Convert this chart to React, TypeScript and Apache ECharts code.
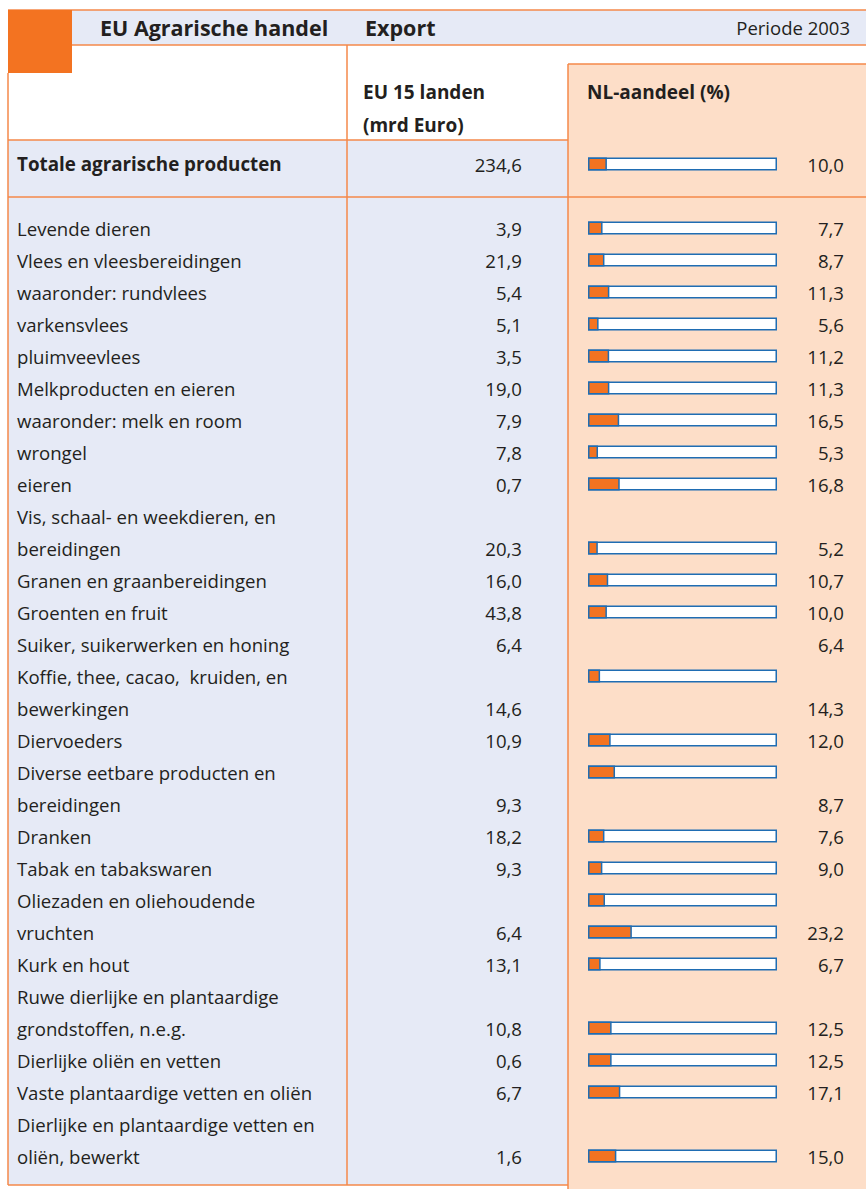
import React, { useEffect, useRef } from "react";
import * as echarts from "echarts";

// ---- data (one entry per printed line; Totale first, then a spacer line) ----
const rowNames: string[] = [
  "Totale agrarische producten",
  "",
  "Levende dieren",
  "Vlees en vleesbereidingen",
  "waaronder: rundvlees",
  "varkensvlees",
  "pluimveevlees",
  "Melkproducten en eieren",
  "waaronder: melk en room",
  "wrongel",
  "eieren",
  "Vis, schaal- en weekdieren, en",
  "bereidingen",
  "Granen en graanbereidingen",
  "Groenten en fruit",
  "Suiker, suikerwerken en honing",
  "Koffie, thee, cacao,  kruiden, en",
  "bewerkingen",
  "Diervoeders",
  "Diverse eetbare producten en",
  "bereidingen",
  "Dranken",
  "Tabak en tabakswaren",
  "Oliezaden en oliehoudende",
  "vruchten",
  "Kurk en hout",
  "Ruwe dierlijke en plantaardige",
  "grondstoffen, n.e.g.",
  "Dierlijke oliën en vetten",
  "Vaste plantaardige vetten en oliën",
  "Dierlijke en plantaardige vetten en",
  "oliën, bewerkt",
];

// EU 15 export (mrd Euro)
const euExport: (number | null)[] = [
  234.6, null, 3.9, 21.9, 5.4, 5.1, 3.5, 19.0, 7.9, 7.8, 0.7, null, 20.3, 16.0,
  43.8, 6.4, null, 14.6, 10.9, null, 9.3, 18.2, 9.3, null, 6.4, 13.1, null, 10.8,
  0.6, 6.7, null, 1.6,
];

// NL-aandeel (%) printed numbers
const nlShare: (number | null)[] = [
  10.0, null, 7.7, 8.7, 11.3, 5.6, 11.2, 11.3, 16.5, 5.3, 16.8, null, 5.2, 10.7,
  10.0, 6.4, null, 14.3, 12.0, null, 8.7, 7.6, 9.0, null, 23.2, 6.7, null, 12.5,
  12.5, 17.1, null, 15.0,
];

// NL-aandeel bars as drawn on each line (%)
const nlBars: (number | null)[] = [
  10.0, null, 7.7, 8.7, 11.3, 5.6, 11.2, 11.3, 16.5, 5.3, 16.8, null, 5.2, 10.7,
  10.0, null, 6.4, null, 12.0, 14.3, null, 8.7, 7.6, 9.0, 23.2, 6.7, null, 12.5,
  12.5, 17.1, null, 15.0,
];

const FONT = "Open Sans";
const TXT = "#231f20";
const ORANGE = "#f37321";
const LINE = "#f4884a";
const LAV = "#e6eaf6";
const PEACH = "#fddec8";
const BLUE = "#1f6db3";
const BODY = 18.6;

const fmt = (v: number | null) => (v == null ? "" : v.toFixed(1).replace(".", ","));

export default function App() {
  const ref = useRef<HTMLDivElement>(null);
  useEffect(() => {
    if (!ref.current) return;
    const chart = echarts.init(ref.current, null, { renderer: "svg" });
    const hline = (x1: number, x2: number, y: number) => ({
      type: "line",
      shape: { x1, y1: y, x2, y2: y },
      style: { stroke: LINE, lineWidth: 1.5 },
      z: 1,
    });
    const vline = (x: number, y1: number, y2: number) => ({
      type: "line",
      shape: { x1: x, y1, x2: x, y2 },
      style: { stroke: LINE, lineWidth: 1.5 },
      z: 1,
    });
    const text = (t: string, x: number, y: number, size: number, bold: boolean, align = "left") => ({
      type: "text",
      x,
      y,
      z: 3,
      style: {
        text: t,
        fill: TXT,
        font: `${bold ? "bold " : ""}${size}px "${FONT}"`,
        textAlign: align,
        textVerticalAlign: "middle",
      },
    });
    const labelBase = {
      interval: 0,
      color: TXT,
      fontFamily: FONT,
      fontSize: BODY,
      verticalAlign: "middle",
    };
    const track = nlBars.map((v) => (v == null ? "-" : 100));
    const fill = nlBars.map((v) => (v == null ? "-" : v));

    chart.setOption({
      animation: false,
      graphic: [
        { type: "rect", shape: { x: 568, y: 64, width: 298, height: 1125 }, style: { fill: PEACH }, z: 0 },
        { type: "rect", shape: { x: 8, y: 140, width: 560, height: 1045 }, style: { fill: LAV }, z: 0 },
        { type: "rect", shape: { x: 72, y: 10, width: 794, height: 35 }, style: { fill: LAV }, z: 0 },
        { type: "rect", shape: { x: 8, y: 10, width: 64, height: 63 }, style: { fill: ORANGE }, z: 2 },
        hline(8, 866, 10),
        hline(72, 866, 45),
        hline(568, 866, 64),
        vline(568, 64, 1189),
        vline(8, 73, 1185),
        vline(347, 45, 1185),
        hline(8, 568, 140),
        hline(8, 866, 197),
        hline(8, 568, 1185),
        text("EU Agrarische handel", 100, 27, 21.5, true),
        text("Export", 365, 27, 21.5, true),
        text("Periode 2003", 850, 27, 18.5, false, "right"),
        text("EU 15 landen", 363, 92, 19, true),
        text("(mrd Euro)", 363, 125, 19, true),
        text("NL-aandeel (%)", 587, 92, 19, true),
      ],
      grid: { left: 588, right: 89, top: 148, height: 1024, containLabel: false },
      xAxis: { type: "value", min: 0, max: 100, show: false },
      yAxis: [
        {
          type: "category",
          inverse: true,
          data: rowNames,
          position: "left",
          axisLine: { show: false },
          axisTick: { show: false },
          splitLine: { show: false },
          axisLabel: {
            ...labelBase,
            align: "left",
            margin: 571,
            formatter: (v: string, i: number) => (i === 0 ? `{b|${v}}` : v),
            rich: { b: { fontWeight: "bold", fontSize: 18.8, fontFamily: FONT, color: TXT } },
          },
        },
        {
          type: "category",
          inverse: true,
          data: rowNames,
          position: "left",
          axisLine: { show: false },
          axisTick: { show: false },
          splitLine: { show: false },
          axisLabel: {
            ...labelBase,
            align: "right",
            margin: 66,
            formatter: (_v: string, i: number) => fmt(euExport[i]),
          },
        },
        {
          type: "category",
          inverse: true,
          data: rowNames,
          position: "right",
          axisLine: { show: false },
          axisTick: { show: false },
          splitLine: { show: false },
          axisLabel: {
            ...labelBase,
            align: "right",
            margin: 67,
            formatter: (_v: string, i: number) => fmt(nlShare[i]),
          },
        },
      ],
      series: [
        {
          type: "bar",
          yAxisIndex: 0,
          data: track,
          barWidth: 13,
          barGap: "-100%",
          silent: true,
          itemStyle: { color: "#ffffff", borderColor: BLUE, borderWidth: 1.5 },
          z: 3,
        },
        {
          type: "bar",
          yAxisIndex: 0,
          data: fill,
          barWidth: 13,
          barGap: "-100%",
          silent: true,
          itemStyle: { color: ORANGE, borderColor: BLUE, borderWidth: 1.5 },
          z: 4,
        },
      ],
    });
    return () => chart.dispose();
  }, []);
  return (
    <div
      ref={ref}
      style={{ position: "fixed", left: 0, top: 0, width: 866, height: 1189, background: "#fff" }}
    />
  );
}
